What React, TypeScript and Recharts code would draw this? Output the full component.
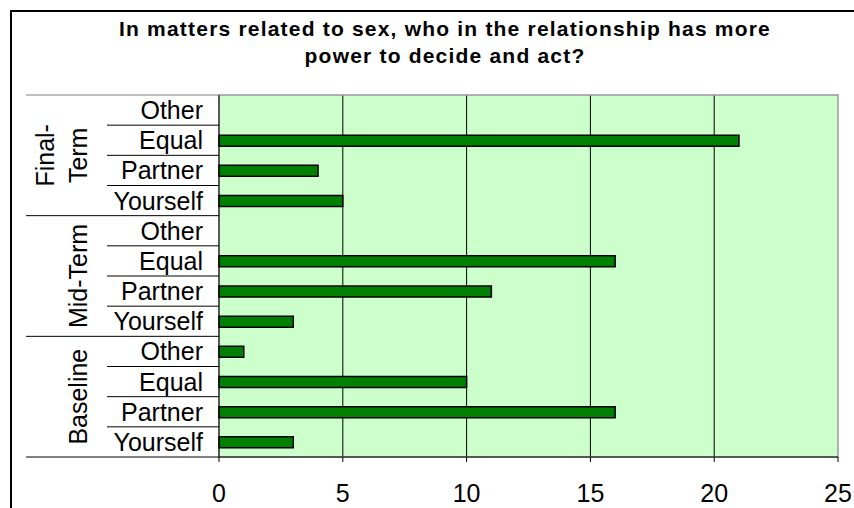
import React from 'react';
import {
  Bar,
  BarChart,
  CartesianGrid,
  ReferenceArea,
  XAxis,
  YAxis,
} from 'recharts';

const groups = ['Final-Term', 'Mid-Term', 'Baseline'];
const answers = ['Other', 'Equal', 'Partner', 'Yourself'];
const finalTerm = [0, 21, 4, 5];
const midTerm = [0, 16, 11, 3];
const baseline = [1, 10, 16, 3];
const xTicks = [0, 5, 10, 15, 20, 25];
const titleLines = [
  'In matters related to sex, who in the relationship has more',
  'power to decide and act?',
];

const seriesByGroup = [finalTerm, midTerm, baseline];

// one row per (period, answer), top to bottom
const rows = groups.flatMap((g, gi) =>
  answers.map((a, ai) => ({ key: `${g}|${a}`, value: seriesByGroup[gi][ai] }))
);

const W = 854;
const H = 508;
const PLOT_LEFT = 219;
const PLOT_RIGHT = 838;
const PLOT_TOP = 95;
const PLOT_BOTTOM = 457;
const BAND = (PLOT_BOTTOM - PLOT_TOP) / rows.length;
const FONT = '"Liberation Sans", Arial, sans-serif';

function CategoryTick(props: any) {
  const { y, payload } = props;
  const [group, answer] = String(payload.value).split('|');
  const ai = answers.indexOf(answer);
  const lastInGroup = ai === answers.length - 1;
  const firstGroup = groups.indexOf(group) === 0;
  const lowerY = y + BAND / 2;

  let groupLabel = null;
  if (ai === 1) {
    const cy = lowerY;
    const lines = group === 'Final-Term' ? ['Final-', 'Term'] : [group];
    const baselines = lines.length === 2 ? [54, 87] : [87];
    groupLabel = lines.map((ln, i) => (
      <text
        key={ln}
        x={baselines[i]}
        y={cy}
        transform={`rotate(-90 ${baselines[i]} ${cy})`}
        textAnchor="middle"
        fontSize={25}
        fill="#000"
      >
        {ln}
      </text>
    ));
  }

  return (
    <g>
      {ai === 0 && firstGroup && (
        <line x1={26} x2={PLOT_LEFT} y1={y - BAND / 2} y2={y - BAND / 2} stroke="#808080" />
      )}
      <line
        x1={lastInGroup ? 26 : 107}
        x2={PLOT_LEFT}
        y1={lowerY}
        y2={lowerY}
        stroke="#000"
      />
      <text x={203} y={y + 9} textAnchor="end" fontSize={25} fill="#000">
        {answer}
      </text>
      {groupLabel}
    </g>
  );
}

export default function App() {
  return (
    <div
      style={{
        position: 'absolute',
        left: 0,
        top: 0,
        width: W,
        height: H,
        overflow: 'hidden',
        background: '#fff',
        fontFamily: FONT,
      }}
    >
      <svg width={W} height={H} style={{ position: 'absolute', left: 0, top: 0 }}>
        <rect x={11} y={11} width={900} height={600} fill="none" stroke="#000" strokeWidth={2} />
        {titleLines.map((t, i) => (
          <text
            key={t}
            x={445}
            y={36 + i * 27}
            textAnchor="middle"
            fontSize={21}
            fontWeight="bold"
            letterSpacing={1.2}
            fill="#000"
          >
            {t}
          </text>
        ))}
      </svg>
      <div style={{ position: 'absolute', left: 0, top: 0 }}>
        <BarChart
          width={W}
          height={H}
          data={rows}
          layout="vertical"
          margin={{ top: PLOT_TOP, right: W - PLOT_RIGHT, bottom: 0, left: 0 }}
        >
          <CartesianGrid
            horizontal={false}
            fill="#CCFFCC"
            fillOpacity={1}
            stroke="#000"
            verticalValues={[5, 10, 15, 20]}
          />
          <ReferenceArea x1={0} x2={25} fill="none" fillOpacity={0} stroke="#999" strokeWidth={1.5} />
          <XAxis
            type="number"
            domain={[0, 25]}
            ticks={xTicks}
            interval={0}
            height={H - PLOT_BOTTOM}
            tickSize={5}
            tickMargin={22}
            axisLine={{ stroke: '#000' }}
            tickLine={{ stroke: '#000' }}
            tick={{ fontSize: 25, fill: '#000' }}
          />
          <YAxis
            type="category"
            dataKey="key"
            width={PLOT_LEFT}
            interval={0}
            tickLine={false}
            axisLine={{ stroke: '#000' }}
            tick={<CategoryTick />}
          />
          <Bar
            dataKey="value"
            fill="#008000"
            stroke="#000"
            strokeWidth={1.5}
            barSize={11}
            isAnimationActive={false}
          />
        </BarChart>
      </div>
    </div>
  );
}
